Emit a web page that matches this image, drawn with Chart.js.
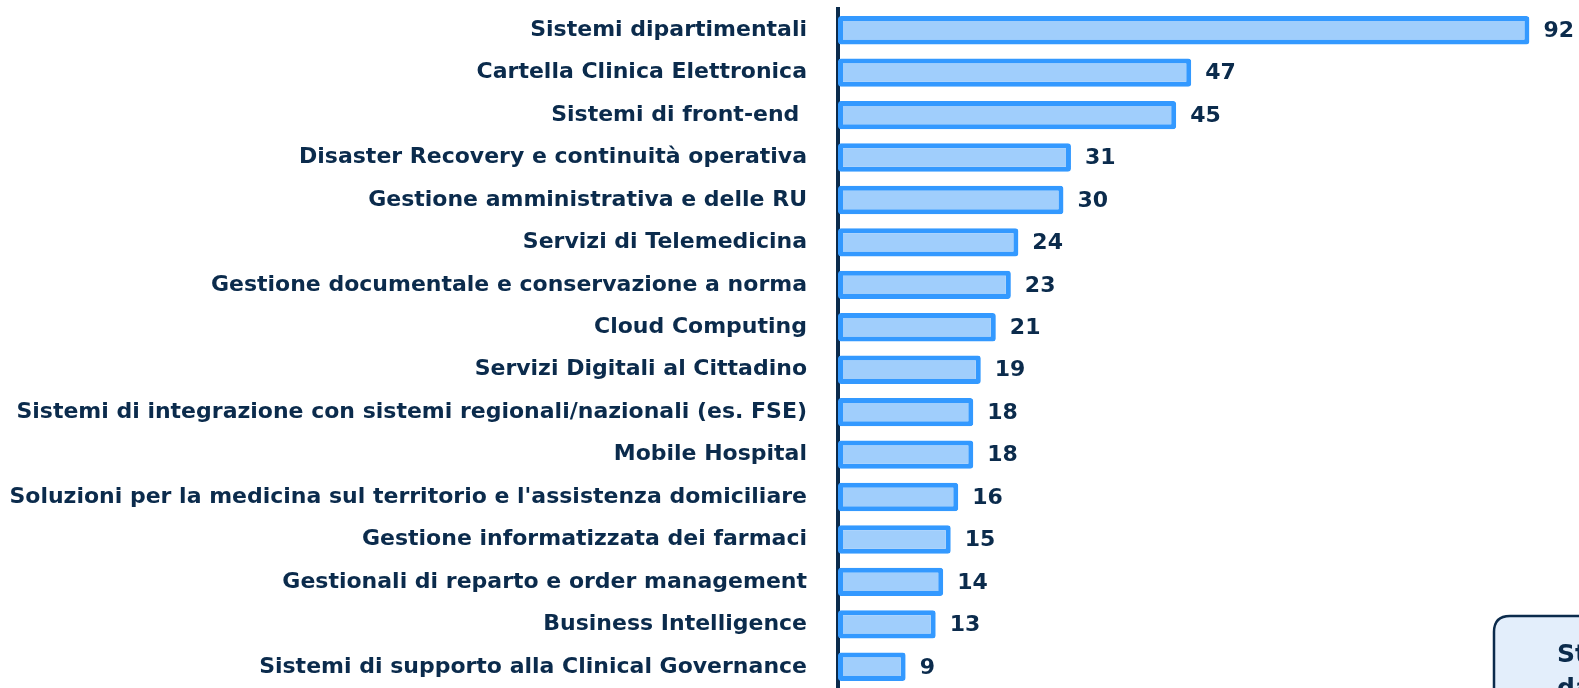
<!DOCTYPE html>
<html>
<head>
<meta charset="utf-8">
<script src="https://cdn.jsdelivr.net/npm/chart.js@4.4.0/dist/chart.umd.min.js"></script>
<style>
  html, body { margin: 0; padding: 0; background: #fff; overflow: hidden; }
  #wrap { width: 1579px; height: 688px; position: relative; }
</style>
</head>
<body>
<div id="wrap"><canvas id="barChart" width="1579" height="688"></canvas></div>
<script>
const categories = [
    'Sistemi dipartimentali',
    'Cartella Clinica Elettronica',
    'Sistemi di front-end ',
    'Disaster Recovery e continuità operativa',
    'Gestione amministrativa e delle RU',
    'Servizi di Telemedicina',
    'Gestione documentale e conservazione a norma',
    'Cloud Computing',
    'Servizi Digitali al Cittadino',
    'Sistemi di integrazione con sistemi regionali/nazionali (es. FSE)',
    'Mobile Hospital',
    "Soluzioni per la medicina sul territorio e l'assistenza domiciliare",
    'Gestione informatizzata dei farmaci',
    'Gestionali di reparto e order management',
    'Business Intelligence',
    'Sistemi di supporto alla Clinical Governance'
];
const values = [92, 47, 45, 31, 30, 24, 23, 21, 19, 18, 18, 16, 15, 14, 13, 9];
const boxLines = ['St', 'da'];

const navy = '#0b2b4c';
const fontFamily = '"DejaVu Sans", Verdana, sans-serif';

document.addEventListener("DOMContentLoaded", function () {

    // numbers at the end of each bar
    const valueLabels = {
        id: 'valueLabels',
        afterDatasetsDraw(chart) {
            const ctx = chart.ctx;
            const meta = chart.getDatasetMeta(0);
            ctx.save();
            ctx.fillStyle = navy;
            ctx.font = 'bold 22px ' + fontFamily;
            ctx.textAlign = 'left';
            ctx.textBaseline = 'middle';
            meta.data.forEach(function (bar, i) {
                ctx.fillText(String(values[i]), bar.x + 14, bar.y + 1);
            });
            ctx.restore();
        }
    };

    // the callout box cut off in the lower right corner
    const cornerBox = {
        id: 'cornerBox',
        afterDraw(chart) {
            const ctx = chart.ctx;
            const x = 1494, y = 616, w = 200, h = 120, r = 16;
            ctx.save();
            ctx.beginPath();
            ctx.moveTo(x + r, y);
            ctx.lineTo(x + w, y);
            ctx.lineTo(x + w, y + h);
            ctx.lineTo(x, y + h);
            ctx.lineTo(x, y + r);
            ctx.quadraticCurveTo(x, y, x + r, y);
            ctx.closePath();
            ctx.fillStyle = '#e3eefb';
            ctx.fill();
            ctx.lineWidth = 2.5;
            ctx.strokeStyle = navy;
            ctx.stroke();
            ctx.fillStyle = navy;
            ctx.font = 'bold 25px ' + fontFamily;
            ctx.textAlign = 'left';
            ctx.textBaseline = 'alphabetic';
            ctx.fillText(boxLines[0], 1557, 662);
            ctx.fillText(boxLines[1], 1557, 696);
            ctx.restore();
        }
    };

    const ctx = document.getElementById('barChart').getContext('2d');
    new Chart(ctx, {
        type: 'bar',
        data: {
            labels: categories,
            datasets: [{
                data: values,
                backgroundColor: '#a0cefc',
                borderColor: '#3399ff',
                borderWidth: 5,
                borderRadius: 3,
                borderSkipped: false,
                barPercentage: 0.67,
                categoryPercentage: 1
            }]
        },
        options: {
            indexAxis: 'y',
            responsive: false,
            animation: false,
            layout: { padding: { top: 9, bottom: 0, left: 0, right: 0 } },
            plugins: {
                legend: { display: false },
                tooltip: { enabled: false }
            },
            scales: {
                x: {
                    display: false,
                    min: 0,
                    max: 98.6
                },
                y: {
                    afterFit: function (scale) {
                        scale.width = 838;
                        scale.paddingTop = 0;
                        scale.paddingBottom = 0;
                    },
                    grid: { display: false, drawTicks: true, tickLength: 30 },
                    border: { display: true, color: navy, width: 4 },
                    ticks: {
                        color: navy,
                        font: { family: fontFamily, size: 22, weight: 'bold' },
                        padding: 1,
                        autoSkip: false
                    }
                }
            }
        },
        plugins: [valueLabels, cornerBox]
    });
});
</script>
</body>
</html>
